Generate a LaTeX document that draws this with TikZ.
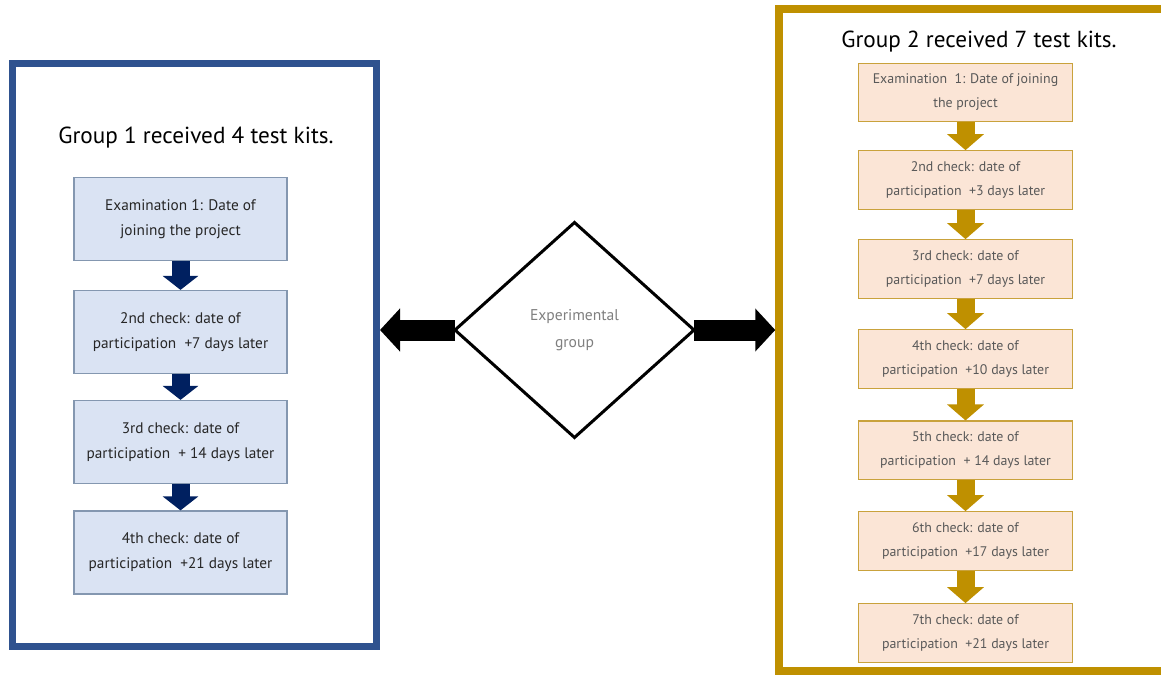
\documentclass[tikz,border=0pt]{standalone}
\usepackage{fontspec}
\setmainfont{PT Sans}
\usetikzlibrary{shapes.geometric,arrows.meta}
\definecolor{frameblue}{RGB}{47,82,143}
\definecolor{navyarrow}{RGB}{0,32,96}
\definecolor{lbfill}{RGB}{218,227,243}
\definecolor{lbdraw}{RGB}{132,151,176}
\definecolor{gold}{RGB}{191,144,0}
\definecolor{rbfill}{RGB}{251,229,214}
\definecolor{rbdraw}{RGB}{201,162,60}
\definecolor{ltext}{RGB}{38,38,38}
\definecolor{rtext}{RGB}{89,89,89}
\definecolor{dtext}{RGB}{127,127,127}
\tikzset{
  leftbox/.style={draw=lbdraw, fill=lbfill, line width=1.2pt, minimum width=213pt, minimum height=83pt, inner sep=0pt, align=center, text=ltext, font=\fontsize{15.3}{25}\selectfont},
  rightbox/.style={draw=rbdraw, fill=rbfill, line width=1.2pt, minimum width=214pt, minimum height=58.5pt, inner sep=0pt, align=center, text=rtext, font=\fontsize{13.9}{24}\selectfont},
  navyblock/.style={draw=navyarrow, line width=18pt, -{Triangle[width=35pt,length=14pt]}},
  goldblock/.style={draw=gold, line width=18pt, -{Triangle[width=36pt,length=16pt]}},
  blackblock/.style={draw=black, line width=21pt, -{Triangle[width=42pt,length=20pt]}},
  titletext/.style={text=black, font=\fontsize{23.2}{26}\selectfont, inner sep=0pt}
}
\begin{document}
\begin{tikzpicture}[x=1pt,y=-1pt]
\useasboundingbox (0,0) rectangle (1161,679);
\fill[white] (0,0) rectangle (1161,679);
% frames
\node[draw=frameblue, line width=7pt, minimum width=364.5pt, minimum height=582.5pt, inner sep=0pt] (frame1) at (194.25,354.75) {};
\node[draw=gold, line width=7.5pt, minimum width=396pt, minimum height=662pt, inner sep=0pt] (frame2) at (977,340) {};
% titles
\node[titletext] (t1) at (196,138) {Group 1 received 4 test kits.};
\node[titletext] (t2) at (979,42) {Group 2 received 7 test kits.};
% left boxes
\node[leftbox] (l1) at (180.5,219.2) {Examination 1: Date of\\joining the project};
\node[leftbox] (l2) at (180.5,332) {2nd check: date of\\participation \ +7 days later};
\node[leftbox] (l3) at (180.5,442) {3rd check: date of\\participation \ + 14 days later};
\node[leftbox] (l4) at (180.5,552.5) {4th check: date of\\participation \ +21 days later};
\draw[navyblock] (l1.south) -- (l2.north);
\draw[navyblock] (l2.south) -- (l3.north);
\draw[navyblock] (l3.south) -- (l4.north);
% right boxes
\node[rightbox] (r1) at (965.5,92.5) {Examination \ 1: Date of joining\\the project};
\node[rightbox] (r2) at (965.5,180) {2nd check: date of\\participation \ +3 days later};
\node[rightbox] (r3) at (965.5,269) {3rd check: date of\\participation \ +7 days later};
\node[rightbox] (r4) at (965.5,359) {4th check: date of\\participation \ +10 days later};
\node[rightbox] (r5) at (965.5,450.3) {5th check: date of\\participation \ + 14 days later};
\node[rightbox] (r6) at (965.5,541) {6th check: date of\\participation \ +17 days later};
\node[rightbox] (r7) at (965.5,633) {7th check: date of\\participation \ +21 days later};
\draw[goldblock] (r1.south) -- (r2.north);
\draw[goldblock] (r2.south) -- (r3.north);
\draw[goldblock] (r3.south) -- (r4.north);
\draw[goldblock] (r4.south) -- (r5.north);
\draw[goldblock] (r5.south) -- (r6.north);
\draw[goldblock] (r6.south) -- (r7.north);
% diamond
\node[diamond, draw=black, line width=3pt, aspect=1.11, minimum width=239pt, minimum height=215pt, inner sep=0pt, outer sep=0pt, align=center, text=dtext, font=\fontsize{15.6}{27}\selectfont] (d) at (574.5,330) {Experimental\\group};
\draw[blackblock] (d.west) -- (d.west -| frame1.east);
\draw[blackblock] (d.east) -- (d.east -| frame2.west);
\end{tikzpicture}
\end{document}
